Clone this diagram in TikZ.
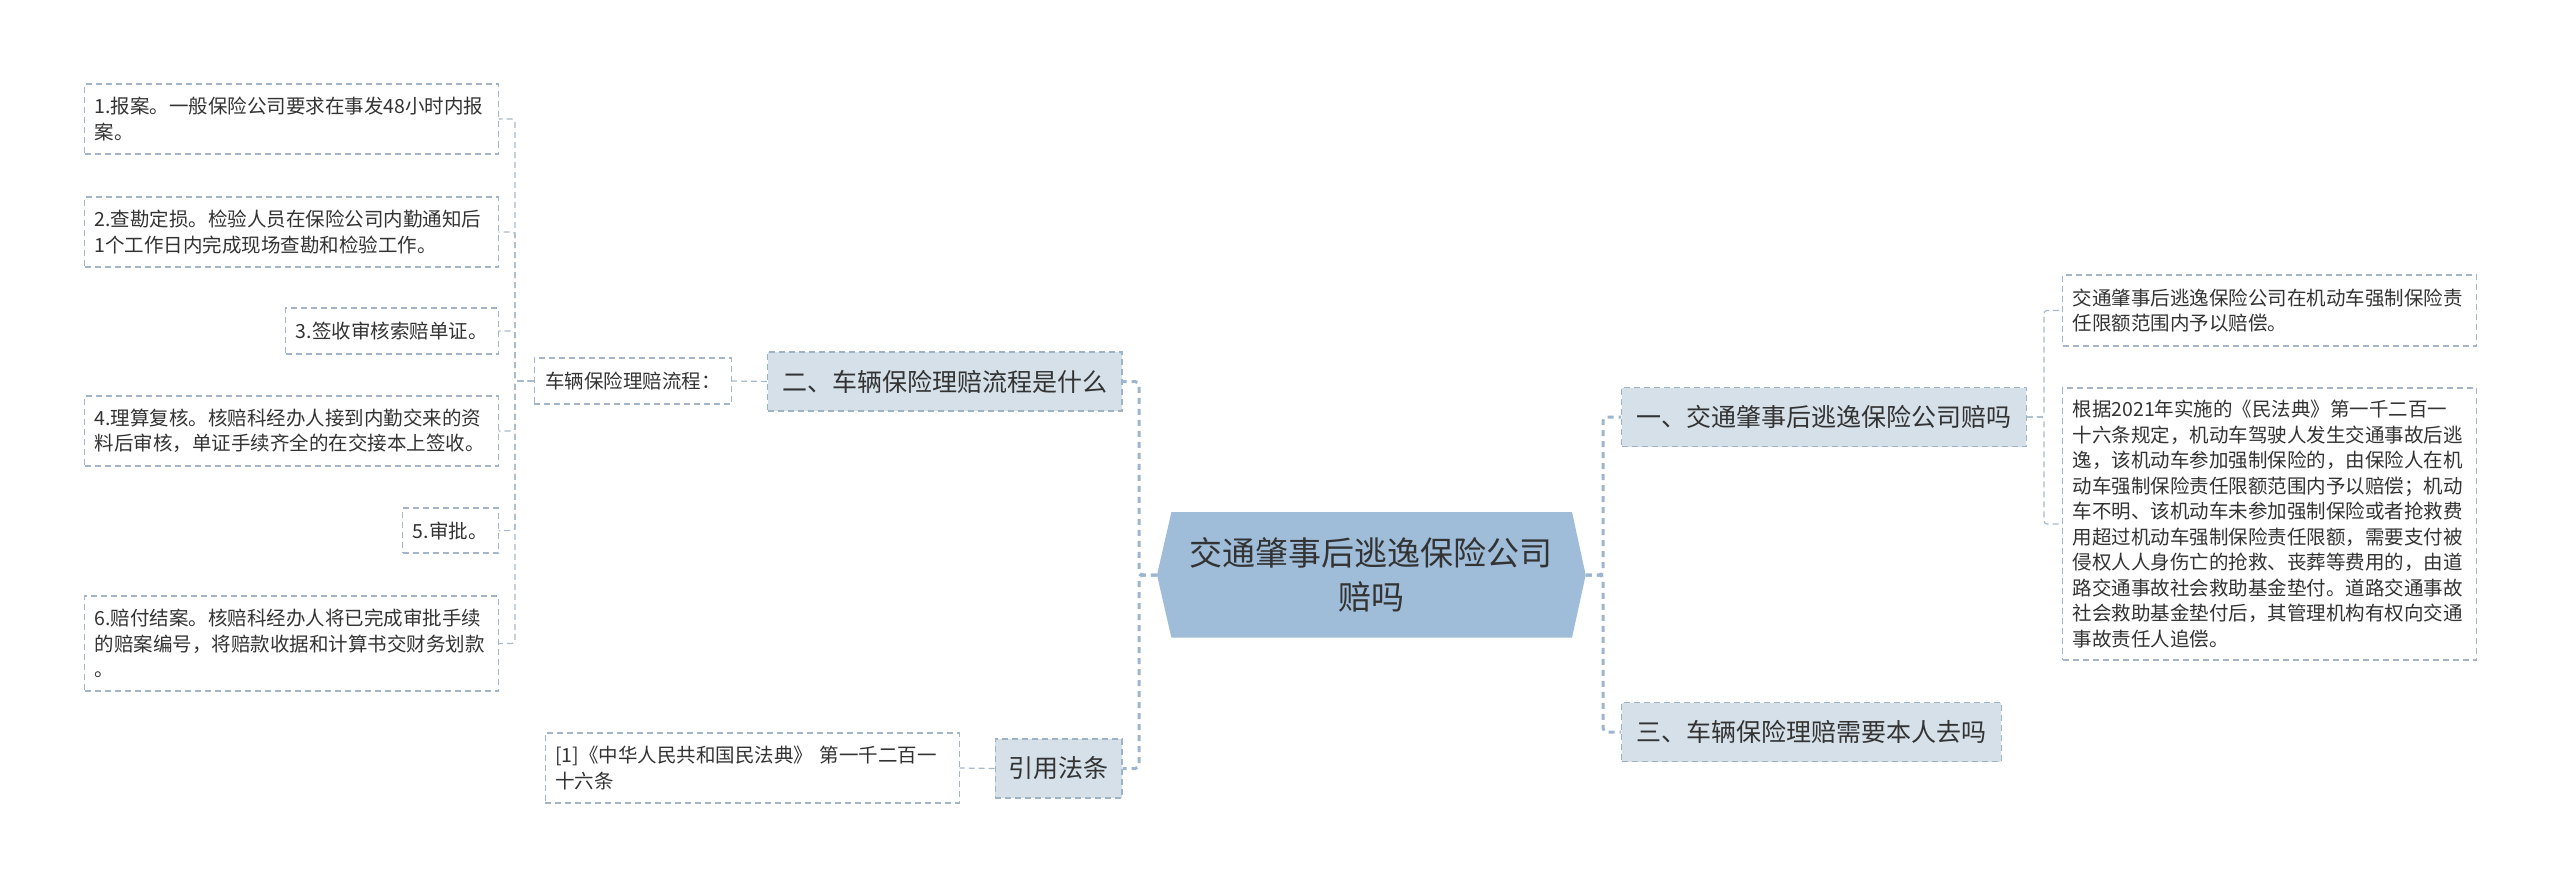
\documentclass[tikz,border=0pt]{standalone}
\usepackage{fontspec}
\setmainfont{Noto Sans CJK SC}
\definecolor{txt}{HTML}{333333}
\definecolor{leafline}{HTML}{A3B5C6}
\definecolor{thinconn}{HTML}{A8B9C9}
\definecolor{mainconn}{HTML}{9CB6CF}
\definecolor{lvfill}{HTML}{D5E0E9}
\definecolor{lvline}{HTML}{9EB3C6}
\definecolor{cfill}{HTML}{9FBDD9}
\tikzset{
 leaf/.style={draw=leafline, line width=1.2pt, dash pattern=on 6pt off 4pt, anchor=west, inner xsep=10pt, inner ysep=0pt, align=left, text=txt, font=\fontsize{19.5}{25.5}\selectfont},
 lvone/.style={draw=lvline, fill=lvfill, line width=1.2pt, dash pattern=on 6pt off 4pt, anchor=west, inner xsep=12pt, inner ysep=0pt, align=left, text=txt, font=\fontsize{25}{32}\selectfont},
 thinc/.style={draw=thinconn, line width=1.2pt, dash pattern=on 6pt off 4pt, rounded corners=3pt},
 thickc/.style={draw=mainconn, line width=3pt, dash pattern=on 6pt off 5pt, rounded corners=4pt},
}
\begin{document}
\begin{tikzpicture}[x=1pt,y=-1pt]
\useasboundingbox[fill=white] (0,0) rectangle (2560,888);
% left leaves
\node[leaf, minimum width=413.5, minimum height=70, text width=393.5] (b1) at (84,119) {1.报案。一般保险公司要求在事发48小时内报\\案。};
\node[leaf, minimum width=413.5, minimum height=70, text width=393.5] (b2) at (84,232) {2.查勘定损。检验人员在保险公司内勤通知后\\1个工作日内完成现场查勘和检验工作。};
\node[leaf, minimum width=212.5, minimum height=46] (b3) at (285,331) {3.签收审核索赔单证。};
\node[leaf, minimum width=413.5, minimum height=70, text width=393.5] (b4) at (84,431) {4.理算复核。核赔科经办人接到内勤交来的资\\料后审核，单证手续齐全的在交接本上签收。};
\node[leaf, minimum width=95.5, minimum height=45] (b5) at (402,530.5) {5.审批。};
\node[leaf, minimum width=413.5, minimum height=95, text width=393.5] (b6) at (84,643.5) {6.赔付结案。核赔科经办人将已完成审批手续\\的赔案编号，将赔款收据和计算书交财务划款\\。};
\node[leaf, minimum width=197.5, minimum height=46] (lc) at (533.5,381) {车辆保险理赔流程：};
\node[leaf, minimum width=413.9, minimum height=70, text width=393.9] (cite) at (544.6,768) {[1]《中华人民共和国民法典》 第一千二百一\\十六条};
% level one
\node[lvone, minimum width=354.4, minimum height=59] (n2) at (767,381.5) {二、车辆保险理赔流程是什么};
\node[lvone, minimum width=126.8, minimum height=59] (yf) at (994.6,768.5) {引用法条};
\node[lvone, minimum width=404.7, minimum height=59] (n1) at (1621,417) {一、交通肇事后逃逸保险公司赔吗};
\node[lvone, minimum width=379.7, minimum height=59] (n3) at (1621,732) {三、车辆保险理赔需要本人去吗};
% right leaves
\node[leaf, minimum width=414, minimum height=71, text width=394] (ra) at (2062,310.5) {交通肇事后逃逸保险公司在机动车强制保险责\\任限额范围内予以赔偿。};
\node[leaf, minimum width=414, minimum height=272, text width=394] (rb) at (2062,524) {根据2021年实施的《民法典》第一千二百一\\十六条规定，机动车驾驶人发生交通事故后逃\\逸，该机动车参加强制保险的，由保险人在机\\动车强制保险责任限额范围内予以赔偿；机动\\车不明、该机动车未参加强制保险或者抢救费\\用超过机动车强制保险责任限额，需要支付被\\侵权人人身伤亡的抢救、丧葬等费用的，由道\\路交通事故社会救助基金垫付。道路交通事故\\社会救助基金垫付后，其管理机构有权向交通\\事故责任人追偿。};
% center
\fill[cfill] (1157,575) -- (1171.4,512) -- (1572,512) -- (1585.7,575) -- (1572,637.7) -- (1171.4,637.7) -- cycle;
\node[minimum width=428.7, minimum height=125.7, inner sep=0pt, align=center, text=txt, font=\fontsize{33}{44}\selectfont] (c) at (1371.35,575) {交通肇事后逃逸保险公司\\赔吗};
% connectors
\coordinate (busL) at (515,381);
\foreach \b in {b1,b2,b3,b4,b5,b6} \draw[thinc] (lc.west) -- (busL) |- (\b.east);
\draw[thinc] (n2.west) -- (lc.east);
\draw[thinc] (yf.west) -- (cite.east);
\coordinate (busC) at (1139,575);
\draw[thickc] (c.west) -- (busC) |- (n2.east);
\draw[thickc] (c.west) -- (busC) |- (yf.east);
\coordinate (busR) at (1603,575);
\draw[thickc] (c.east) -- (busR) |- (n1.west);
\draw[thickc] (c.east) -- (busR) |- (n3.west);
\coordinate (busR2) at (2044,417);
\draw[thinc] (n1.east) -- (busR2) |- (ra.west);
\draw[thinc] (n1.east) -- (busR2) |- (rb.west);
\end{tikzpicture}
\end{document}
